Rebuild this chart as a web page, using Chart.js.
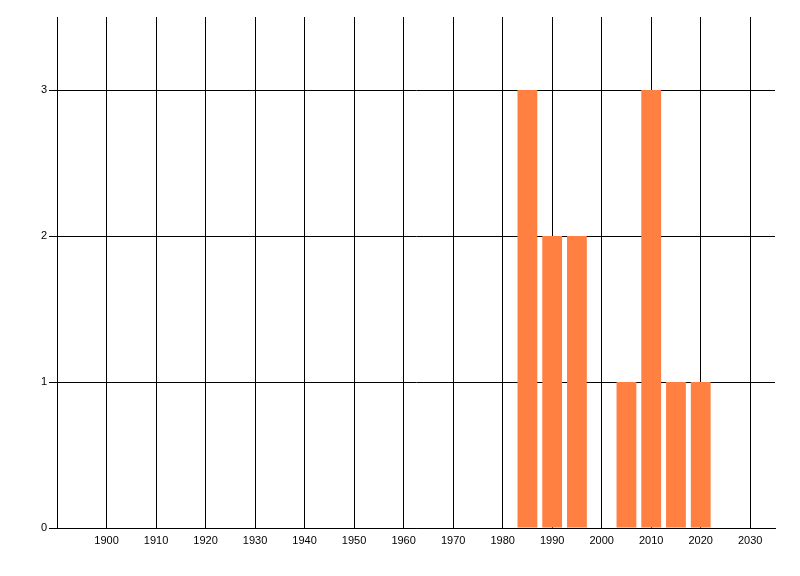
<!DOCTYPE html>
<html>
<head>
<meta charset="utf-8">
<script src="https://cdn.jsdelivr.net/npm/chart.js@4"></script>
<style>
  html, body { margin: 0; padding: 0; background: #fff; }
  #wrap { width: 800px; height: 576px; }
</style>
</head>
<body>
<div id="wrap"><canvas id="chart" width="800" height="576"></canvas></div>
<script>
// Data
const years = [1985, 1990, 1995, 2005, 2010, 2015, 2020];
const counts = [3, 2, 2, 1, 3, 1, 1];
const xMin = 1890, xMax = 2035;
const yMax = 3.5;

const points = years.map((y, i) => ({ x: y, y: counts[i] }));

const ctx = document.getElementById('chart').getContext('2d');
new Chart(ctx, {
    type: 'bar',
    data: {
        datasets: [{
            data: points,
            backgroundColor: '#FF8040',
            borderWidth: 0,
            barPercentage: 1.0,
            categoryPercentage: 0.8
        }]
    },
    options: {
        responsive: false,
        animation: false,
        layout: { padding: { top: 17, right: 25, left: 0, bottom: 0 } },
        plugins: {
            legend: { display: false },
            tooltip: { enabled: false }
        },
        scales: {
            x: {
                type: 'linear',
                min: xMin,
                max: xMax,
                offset: false,
                grid: { offset: false, color: '#000', drawTicks: false },
                border: { color: '#000' },
                ticks: {
                    stepSize: 10,
                    includeBounds: false,
                    padding: 6,
                    color: '#000',
                    font: { family: 'Liberation Sans', size: 11 },
                    maxRotation: 0,
                    autoSkip: false,
                    callback: (v, i) => i === 0 ? '' : String(v)
                },
                afterFit: (s) => { s.height = 48; }
            },
            y: {
                min: 0,
                max: yMax,
                grid: { color: '#000', tickLength: 8 },
                border: { color: '#000' },
                ticks: {
                    stepSize: 1,
                    includeBounds: false,
                    padding: 2,
                    color: '#000',
                    font: { family: 'Liberation Sans', size: 11 }
                },
                afterFit: (s) => { s.width = 57; }
            }
        }
    }
});
</script>
</body>
</html>
